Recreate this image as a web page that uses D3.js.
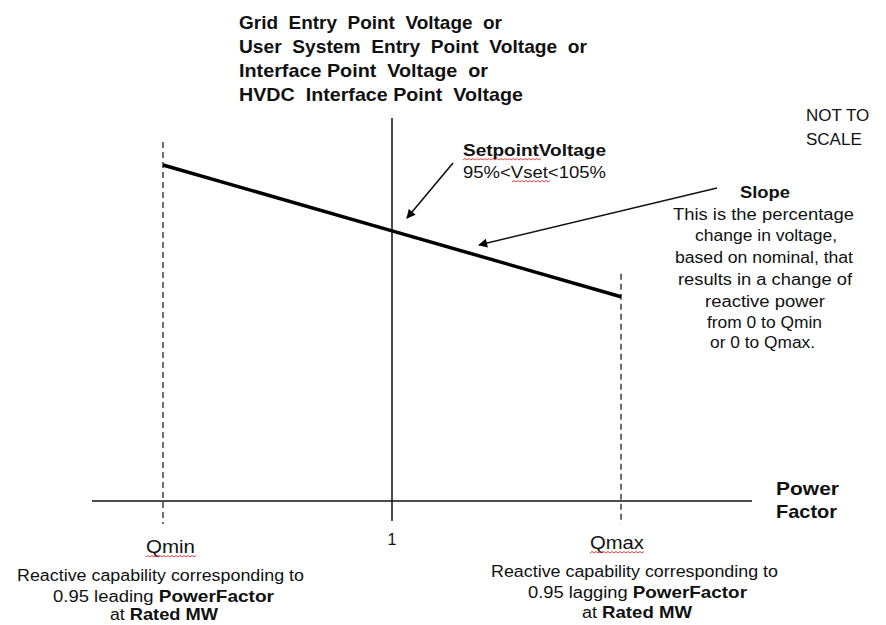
<!DOCTYPE html>
<html>
<head>
<meta charset="utf-8">
<script src="https://cdn.jsdelivr.net/npm/d3@7/dist/d3.min.js"></script>
<style>
  html, body { margin: 0; padding: 0; background: #fff; }
  svg { display: block; font-family: "Liberation Sans", Arial, sans-serif; }
</style>
</head>
<body>
<svg id="chart" width="886" height="625"></svg>
<script>
// Reactive power positions (Qmin, zero / unity power factor, Qmax)
const qPositions = [-1, 0, 1];
const qLabels = ["Qmin", "1", "Qmax"];
// Voltage (% of nominal) along the droop line at each position
const voltagePct = [104, 100, 96];

const titleLines = [
  "Grid  Entry  Point  Voltage  or",
  "User  System  Entry  Point  Voltage  or",
  "Interface Point  Voltage  or",
  "HVDC  Interface Point  Voltage"
];
const slopeLines = [
  "This is the percentage",
  "change in voltage,",
  "based on nominal, that",
  "results in a change of",
  "reactive power",
  "from 0 to Qmin",
  "or 0 to Qmax."
];
const qminNote = ["Reactive capability corresponding to", "0.95 leading |PowerFactor", "at |Rated MW"];
const qmaxNote = ["Reactive capability corresponding to", "0.95 lagging |PowerFactor", "at |Rated MW"];

const svg = d3.select("#chart");

const x = d3.scaleLinear().domain([-1, 1]).range([163, 621]);
const y = d3.scaleLinear().domain([83.6, 106.85]).range([501, 118]);

// Horizontal (power factor) axis
svg.append("line")
  .attr("x1", 92).attr("x2", 752)
  .attr("y1", y(83.6)).attr("y2", y(83.6))
  .attr("stroke", "#111").attr("stroke-width", 1.5);

// Vertical (voltage) axis at unity power factor
svg.append("line")
  .attr("x1", x(0)).attr("x2", x(0))
  .attr("y1", y(106.85)).attr("y2", y(83.6) + 20)
  .attr("stroke", "#111").attr("stroke-width", 1.5);

// Dashed limits at Qmin and Qmax
[[qPositions[0], voltagePct[0]], [qPositions[2], voltagePct[2]]].forEach(([q, v]) => {
  svg.append("line")
    .attr("x1", x(q)).attr("x2", x(q))
    .attr("y1", y(v) - 23).attr("y2", y(83.6) + 23)
    .attr("stroke", "#222").attr("stroke-width", 1.3)
    .attr("stroke-dasharray", "6,4");
});

// Droop characteristic
svg.append("path")
  .datum(qPositions.map((q, i) => [q, voltagePct[i]]))
  .attr("d", d3.line().x(d => x(d[0])).y(d => y(d[1])))
  .attr("fill", "none").attr("stroke", "#000").attr("stroke-width", 3.5);

// Arrowhead marker
svg.append("defs").append("marker")
  .attr("id", "arrowBig").attr("viewBox", "0 0 10 10")
  .attr("refX", 9).attr("refY", 5)
  .attr("markerWidth", 10).attr("markerHeight", 9)
  .attr("markerUnits", "userSpaceOnUse")
  .attr("orient", "auto")
  .append("path").attr("d", "M0,0L10,5L0,10Z").attr("fill", "#000");

svg.append("line")
  .attr("x1", 453).attr("y1", 163).attr("x2", 407).attr("y2", 218)
  .attr("stroke", "#111").attr("stroke-width", 1.6)
  .attr("marker-end", "url(#arrowBig)");
svg.append("line")
  .attr("x1", 717).attr("y1", 188).attr("x2", 479).attr("y2", 245)
  .attr("stroke", "#111").attr("stroke-width", 1.4)
  .attr("marker-end", "url(#arrowBig)");

// Spell-check style squiggle under a word
function squiggle(x0, x1, yy) {
  let d = `M${x0},${yy}`;
  let up = true;
  for (let xx = x0 + 2; xx <= x1; xx += 2) {
    d += `L${xx},${up ? yy - 1.5 : yy}`;
    up = !up;
  }
  svg.append("path").attr("d", d).attr("fill", "none")
    .attr("stroke", "#e03030").attr("stroke-width", 0.9);
}

// Text line fitted to a given width (left edge x0)
function fitText(str, x0, yy, width, size, bold) {
  const t = svg.append("text").attr("x", x0).attr("y", yy)
    .attr("font-size", size).attr("fill", "#111")
    .attr("textLength", width).attr("lengthAdjust", "spacingAndGlyphs")
    .attr("xml:space", "preserve");
  if (bold) t.attr("font-weight", "bold");
  const parts = str.split("|");
  t.append("tspan").text(parts[0]);
  if (parts[1] !== undefined) t.append("tspan").attr("font-weight", "bold").attr("font-size", size + 0.5).text(parts[1]);
  return t;
}

// Vertical axis title
const titleSpan = [[239, 263], [239, 348], [239, 249], [239, 284]];
titleLines.forEach((t, i) => fitText(t, titleSpan[i][0], 29 + i * 24, titleSpan[i][1], 18.5, true));

// Not to scale note
const nts = svg.append("text").attr("font-size", 17).attr("fill", "#111");
["NOT TO", "SCALE"].forEach((t, i) => nts.append("tspan").attr("x", 806).attr("y", 121 + i * 24).text(t));

// Setpoint voltage note
fitText("SetpointVoltage", 463, 156, 143, 16.5, true);
fitText("95%<Vset<105%", 463, 178, 143, 16, false);
squiggle(463, 542, 160);
squiggle(512, 550, 182);

// Slope note
fitText("Slope", 740, 198, 50, 16, true);
const slopeSpan = [[673, 181], [695, 142], [675, 178], [678, 174], [705, 120], [707, 115], [710, 105]];
const slopeY = [220, 241, 263, 285, 307, 328, 348];
slopeLines.forEach((t, i) => fitText(t, slopeSpan[i][0], slopeY[i], slopeSpan[i][1], 16, false));

// Horizontal axis title
fitText("Power", 776, 495, 63, 18.5, true);
fitText("Factor", 776, 518, 61, 18.5, true);

// Position labels
fitText(qLabels[0], 146, 553, 49, 17.5, false);
svg.append("text").attr("x", x(qPositions[1])).attr("y", 545).attr("font-size", 16)
  .attr("text-anchor", "middle").attr("fill", "#111").text(qLabels[1]);
fitText(qLabels[2], 590, 549, 54, 17.5, false);
squiggle(146, 197, 557);
squiggle(590, 644, 553);

// Capability notes under Qmin and Qmax
const qminSpan = [[17, 287, 581], [53, 221, 602], [110, 108, 620]];
const qmaxSpan = [[491, 287, 577], [528, 219, 598], [582, 110, 618]];
qminNote.forEach((t, i) => fitText(t, qminSpan[i][0], qminSpan[i][2], qminSpan[i][1], 16, false));
qmaxNote.forEach((t, i) => fitText(t, qmaxSpan[i][0], qmaxSpan[i][2], qmaxSpan[i][1], 16, false));
</script>
</body>
</html>
